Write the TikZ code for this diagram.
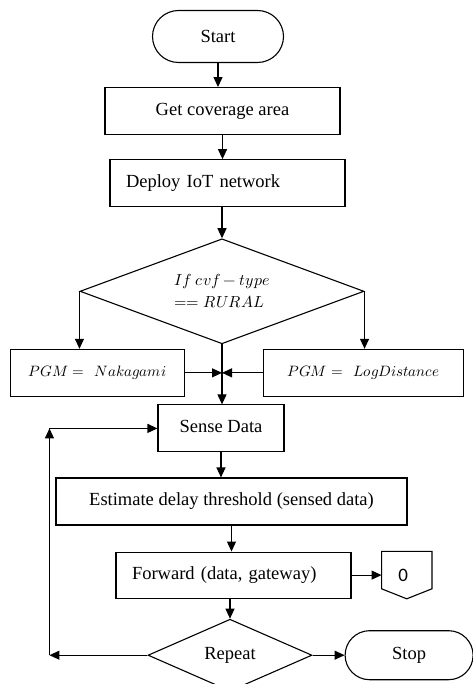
\documentclass[tikz,border=0pt]{standalone}
\usepackage{fontspec}
\usepackage{unicode-math}
\setmainfont{Liberation Serif}
\setmathfont{Latin Modern Math}
\newfontfamily\offfont{Carlito}
\usetikzlibrary{shapes,arrows.meta,positioning}

\begin{document}
\begin{tikzpicture}[
    x=1pt, y=1pt,
    font=\fontsize{18.5}{22}\selectfont,
    box/.style={
        rectangle,
        draw=black,
        line width=1.1pt,
        minimum height=47pt,
        inner sep=0pt,
        align=center
    },
    terminal/.style={
        rounded rectangle,
        draw=black,
        line width=1.1pt,
        minimum height=52pt,
        inner sep=0pt
    },
    decision/.style={
        diamond,
        draw=black,
        line width=1.1pt,
        inner sep=0pt,
        align=left
    },
    mathtext/.style={
        font=\fontsize{15}{19}\selectfont
    },
    arrow/.style={
        -{Triangle[length=10pt,width=9pt]},
        line width=1.1pt
    }
]
\useasboundingbox (0,0) rectangle (472,-684);

% Main column
\node[terminal, minimum width=131pt] (start) at (218,-36.5) {Start};
\node[box, minimum width=235pt, below=24pt of start, xshift=4.5pt] (area) {Get coverage area};
\node[box, minimum width=235pt, text width=203pt, align=left, below=24pt of area, xshift=5pt] (deploy) {Deploy IoT network};
\node[decision, aspect=2.7, minimum width=284pt, minimum height=105pt, below=31pt of deploy, xshift=-5.5pt, font=\fontsize{16}{22}\selectfont] (cond) {$If\ cvf - type$\\$== RURAL$};

% Propagation models
\node[box, mathtext, minimum width=174pt, below=57.5pt of cond.west, xshift=18pt] (naka) {$PGM =\;\, Nakagami$};
\node[box, mathtext, minimum width=200pt, below=57.5pt of cond.east, xshift=-1pt] (logd) {$PGM =\;\, LogDistance$};

% Sensing loop
\node[box, minimum width=126pt, below=60pt of cond, xshift=-1pt] (sense) {\raisebox{4pt}{Sense Data}};
\node[box, minimum width=351pt, below=25pt of sense, xshift=10.5pt] (est) {Estimate delay threshold (sensed data)};
\node[box, minimum width=235pt, minimum height=46pt, text width=203pt, align=left, below=26pt of est, xshift=2pt] (fwd) {Forward (data, gateway)};
\node[decision, aspect=2.3, minimum width=164pt, minimum height=72pt, below=20pt of fwd, xshift=-3.5pt] (rep) {Repeat};
\node[terminal, minimum width=128pt, minimum height=49pt, right=32pt of rep] (stop) {Stop};

% Off-page connector
\node[minimum width=50pt, minimum height=47pt, inner sep=0pt, right=30pt of fwd, font=\offfont\fontsize{19}{21}\selectfont] (off) {0\kern7pt};
\draw[line width=1.1pt] (off.north west) -- (off.north east) -- ([yshift=10pt]off.south east) -- (off.south) -- ([yshift=10pt]off.south west) -- cycle;

\coordinate[left=98pt of rep.west] (loopbot);
\coordinate (looptop) at (loopbot |- sense.west);

% Connections
\draw[arrow] (start.south) -- (start.south |- area.north);
\draw[arrow] (area.south) -- (area.south |- deploy.north);
\draw[arrow] (deploy.south -| cond.north) -- (cond.north);
\draw[arrow] (cond.west) -- (cond.west |- naka.north);
\draw[arrow] (cond.east) -- (cond.east |- logd.north);
\draw[arrow] (cond.south) -- (cond.south |- sense.north);
\draw[arrow] (naka.east) -- (naka.east -| cond.south);
\draw[arrow] (logd.west) -- (logd.west -| cond.south);
\draw[arrow] (sense.south) -- (sense.south |- est.north);
\draw[arrow] (est.south) -- (est.south |- fwd.north);
\draw[arrow] (fwd.south -| rep.north) -- (rep.north);
\draw[arrow] (fwd.east) -- (fwd.east -| off.west);
\draw[arrow] (rep.east) -- (stop.west);

% Repeat loop
\draw[arrow] (rep.west) -- (loopbot);
\draw[arrow] (loopbot) -- (looptop);
\draw[arrow] (looptop) -- (sense.west);

\end{tikzpicture}
\end{document}
